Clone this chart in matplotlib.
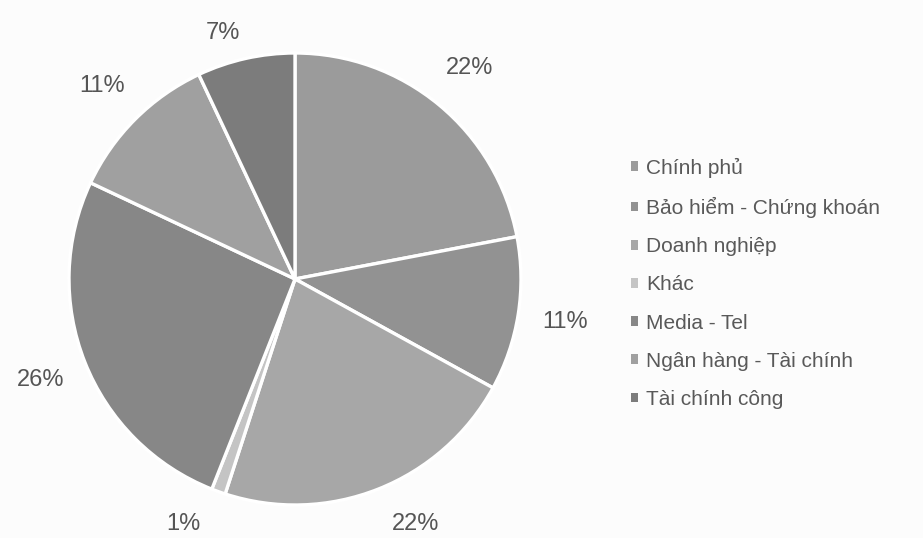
import matplotlib.pyplot as plt
from matplotlib.patches import Patch

labels = ['Chính phủ', 'Bảo hiểm - Chứng khoán', 'Doanh nghiệp', 'Khác',
          'Media - Tel', 'Ngân hàng - Tài chính', 'Tài chính công']
shares = [22, 11, 22, 1, 26, 11, 7]
colors = ['#9b9b9b', '#929292', '#a7a7a7', '#c4c4c4', '#878787', '#a0a0a0', '#7c7c7c']

plt.rc('font', family='Liberation Sans')
fig = plt.figure(figsize=(9.23, 5.38), dpi=100, facecolor='#fcfcfc')
ax = fig.add_axes([69 / 923, 33 / 538, 452 / 923, 452 / 538])
ax.set_facecolor('#fcfcfc')

wedges, texts, autotexts = ax.pie(
    shares, colors=colors, startangle=90, counterclock=False,
    autopct='%d%%', pctdistance=1.21, radius=1,
    wedgeprops=dict(edgecolor='white', linewidth=2.4),
    textprops=dict(fontsize=17, color='#555555'))
# labels near top/bottom sit closer to the pie and a bit wider, like the original
for t in autotexts:
    x, y = t.get_position()
    if y < -1.0:
        t.set_position((x * 1.2, -1.085))
    elif y > 1.1:
        t.set_position((x * 1.2, 1.09))
ax.set_xlim(-1, 1)
ax.set_ylim(-1, 1)
ax.set_aspect('equal')

handles = [Patch(facecolor=c, edgecolor='none') for c in colors]
fig.legend(handles, labels, loc='upper left', bbox_to_anchor=(612 / 923, 1 - 139 / 538),
           frameon=False, fontsize=15, handlelength=0.34, handleheight=0.34,
           handletextpad=0.4, labelspacing=0.92, labelcolor='#595959')

fig.savefig('out.png', dpi=100, facecolor=fig.get_facecolor())
